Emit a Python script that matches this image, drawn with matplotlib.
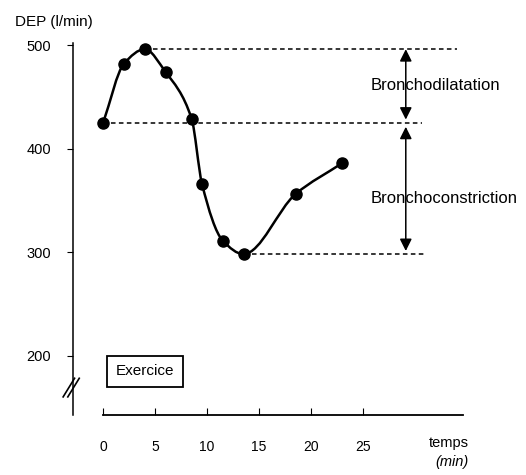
import numpy as np
import matplotlib
matplotlib.use("Agg")
import matplotlib.pyplot as plt
from matplotlib.path import Path
from matplotlib.patches import PathPatch, Rectangle, FancyArrowPatch

plt.rcParams['font.family'] = ['Liberation Sans', 'DejaVu Sans']

# data
minutes = [0, 2, 4, 6, 8.5, 9.5, 11.5, 13.5, 18.5, 23]
dep = [425, 482, 496, 474, 429, 366, 311, 298, 356, 386]

baseline = 425
peak = 496
trough = 298

x_ticks = [0, 5, 10, 15, 20, 25]
y_ticks = [200, 300, 400, 500]

fig = plt.figure(figsize=(5.26, 4.75), dpi=100)
ax = fig.add_axes([0.1388, 0.1263, 0.7414, 0.7832])
ax.set_xlim(-2.9, 34.6)
ax.set_ylim(142.5, 502)

# smooth curve through the points (monotone cubic Hermite drawn as Bezier)
x = np.asarray(minutes, float)
y = np.asarray(dep, float)
h = np.diff(x)
d = np.diff(y) / h
m = np.zeros_like(y)
m[0], m[-1] = d[0], d[-1]
for i in range(1, len(y) - 1):
    if d[i - 1] * d[i] > 0:
        w1, w2 = 2 * h[i] + h[i - 1], h[i] + 2 * h[i - 1]
        m[i] = (w1 + w2) / (w1 / d[i - 1] + w2 / d[i])
verts = [(x[0], y[0])]
codes = [Path.MOVETO]
for i in range(len(x) - 1):
    t = h[i] / 3.0
    verts += [(x[i] + t, y[i] + t * m[i]), (x[i + 1] - t, y[i + 1] - t * m[i + 1]),
              (x[i + 1], y[i + 1])]
    codes += [Path.CURVE4] * 3
ax.add_patch(PathPatch(Path(verts, codes), fill=False, lw=1.8, color='black'))
ax.plot(minutes, dep, 'o', color='black', ms=8, zorder=3)

# reference dashed lines
dash = (0, (3, 2.2))
ax.plot([minutes[2], 34.0], [peak, peak], color='black', lw=1.1, ls=dash)
ax.plot([minutes[0], 30.7], [baseline, baseline], color='black', lw=1.1, ls=dash)
ax.plot([minutes[7], 31.0], [trough, trough], color='black', lw=1.1, ls=dash)

# double arrows
arr_x = 29.1
for y0, y1 in [(peak, 428), (421, 301)]:
    ax.add_patch(FancyArrowPatch((arr_x, y0), (arr_x, y1), arrowstyle='<|-|>',
                                 mutation_scale=18, lw=1.1, color='black',
                                 shrinkA=0, shrinkB=0))

ax.text(25.7, 461, 'Bronchodilatation', ha='left', va='center', fontsize=12,
        clip_on=False)
ax.text(25.7, 352, 'Bronchoconstriction', ha='left', va='center', fontsize=12,
        clip_on=False)

# exercise box
ax.add_patch(Rectangle((0.4, 170), 7.3, 30, fill=False, lw=1.3, color='black'))
ax.text(4.05, 185, 'Exercice', ha='center', va='center', fontsize=11)

# axes styling
for s in ['top', 'right']:
    ax.spines[s].set_visible(False)
ax.spines['bottom'].set_bounds(0, 34.6)
ax.spines['left'].set_linewidth(1.1)
ax.spines['bottom'].set_linewidth(1.3)
ax.set_xticks(x_ticks)
ax.set_yticks(y_ticks)
ax.tick_params(axis='x', direction='in', length=5, pad=18, labelsize=10)
ax.tick_params(axis='y', direction='out', length=4, pad=12, labelsize=10.5)

# axis break marks
for dx in [0, 0.45]:
    ax.plot([-3.85 + dx, -2.75 + dx], [160, 178], color='black', lw=1.2,
            clip_on=False)

fig.text(0.028, 0.953, 'DEP (l/min)', fontsize=11, va='center', ha='left')
fig.text(0.854, 0.067, 'temps', fontsize=10.5, ha='center', va='center')
fig.text(0.859, 0.027, '(min)', fontsize=10.5, ha='center', va='center', style='italic')

fig.savefig('out.png', dpi=100)
